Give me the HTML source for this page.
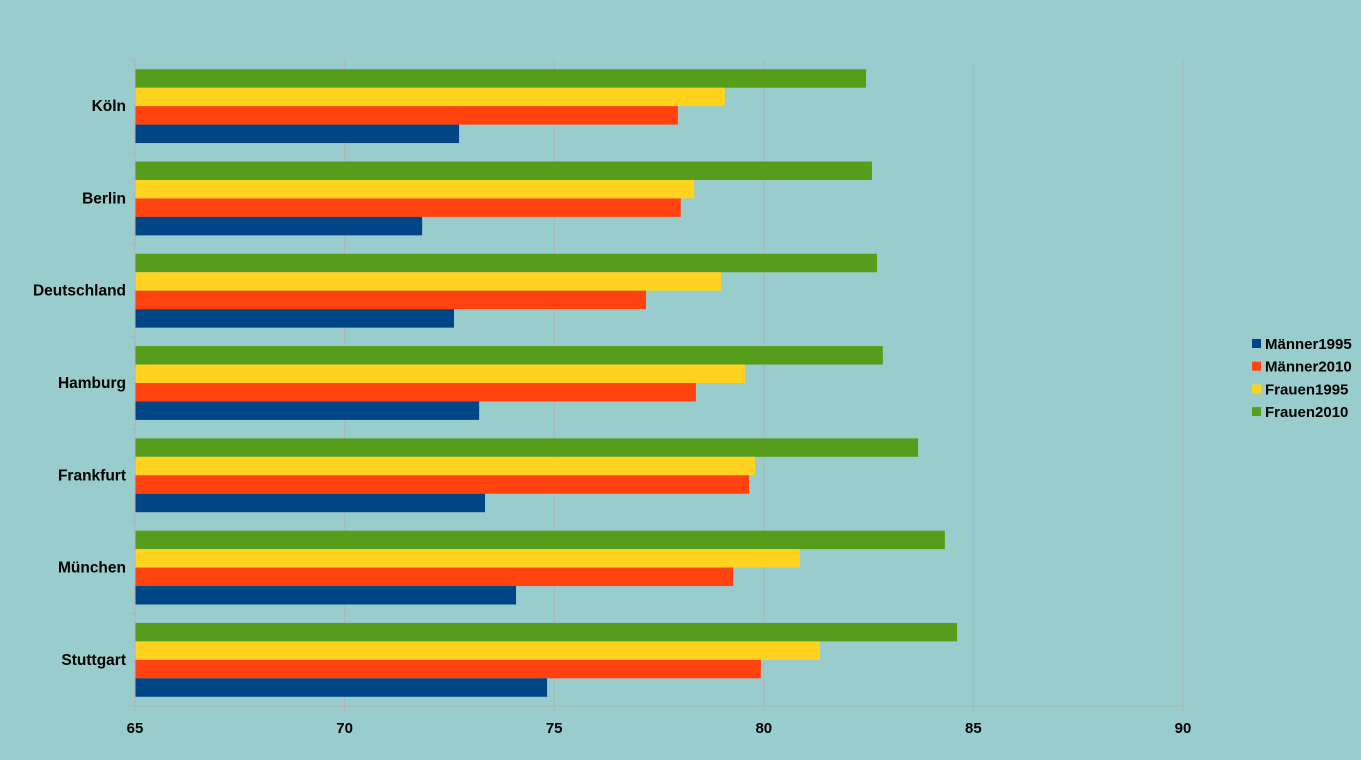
<!DOCTYPE html>
<html><head><meta charset="utf-8"><style>
html,body{margin:0;padding:0;background:#99cccc;}
svg{display:block;font-family:"Liberation Sans",sans-serif;font-weight:bold;}
</style></head><body>
<svg id="chart" width="1361" height="760" viewBox="0 0 1361 760">
<rect width="1361" height="760" fill="#99cccc"/>
<g id="grid"></g>
<g id="bars"></g>
<g id="axes"></g>
<g id="legend"></g>
</svg>
<script>
const categories = ["Köln","Berlin","Deutschland","Hamburg","Frankfurt","München","Stuttgart"];
const seriesNames = ["Männer1995","Männer2010","Frauen1995","Frauen2010"];
const maenner1995 = [72.73,71.85,72.61,73.21,73.35,74.09,74.83];
const maenner2010 = [77.95,78.02,77.19,78.38,79.65,79.27,79.93];
const frauen1995 = [79.07,78.34,78.98,79.55,79.79,80.86,81.34];
const frauen2010 = [82.44,82.58,82.70,82.84,83.68,84.32,84.61];
const xTicks = [65,70,75,80,85,90];

const colors = ["#004586","#ff420e","#ffd320","#579d1c"];
const series = [maenner1995, maenner2010, frauen1995, frauen2010];
const NS = "http://www.w3.org/2000/svg";
const L = 135, R = 1183, T = 60, B = 706;
const xMin = 65, xMax = 90;
const x = v => L + (v - xMin) / (xMax - xMin) * (R - L);
const band = (B - T) / categories.length;
function mk(tag, attrs, parent) {
  const e = document.createElementNS(NS, tag);
  for (const k in attrs) e.setAttribute(k, attrs[k]);
  parent.appendChild(e);
  return e;
}
const grid = document.getElementById('grid');
const bars = document.getElementById('bars');
const axes = document.getElementById('axes');
const legend = document.getElementById('legend');

xTicks.forEach(t => {
  const gl = mk('line', {x1:x(t), x2:x(t), y1:T, y2:B+5, stroke:'#b3b3b3', 'stroke-width':1}, grid);
  
  
  const tl = mk('text', {x:x(t), y:B+27, 'text-anchor':'middle', 'font-size':15, fill:'#000'}, axes);
  tl.textContent = t;
  
  
});
const ax = mk('line', {x1:L-5, x2:R, y1:B, y2:B, stroke:'#b3b3b3'}, axes);


const ay = mk('line', {x1:L, x2:L, y1:T, y2:B+5, stroke:'#b3b3b3'}, axes);


for (let i = 0; i <= categories.length; i++) {
  const tk = mk('line', {x1:L-5, x2:L, y1:T+i*band, y2:T+i*band, stroke:'#b3b3b3'}, axes);
  
  
}
const barH = band * 0.8 / 4;
categories.forEach((c, i) => {
  const top = T + i * band + band * 0.1;
  const cl = mk('text', {x:L-9, y:T+i*band+band/2+5, 'text-anchor':'end', 'font-size':15.5, fill:'#000'}, axes);
  cl.textContent = c;
  
  
  for (let s = 3; s >= 0; s--) {
    const y = top + (3 - s) * barH;
    const r = mk('rect', {x:L, y:y, width:x(series[s][i]) - L, height:barH, fill:colors[s]}, bars);
    
    
  }
});
seriesNames.forEach((n, s) => {
  const y = 344 + s * 22.7;
  const sq = mk('rect', {x:1252, y:y-5, width:9, height:9, fill:colors[s]}, legend);
  
  
  const t = mk('text', {x:1265, y:y+5, 'font-size':15, fill:'#000'}, legend);
  t.textContent = n;
  
  
});
</script>
</body></html>
